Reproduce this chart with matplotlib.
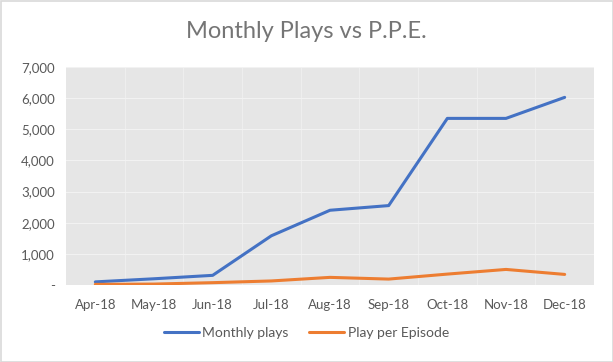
import matplotlib
matplotlib.use("Agg")
import matplotlib.pyplot as plt
from matplotlib.patches import Rectangle
from matplotlib.ticker import FuncFormatter, MultipleLocator

months = ["Apr-18", "May-18", "Jun-18", "Jul-18", "Aug-18", "Sep-18", "Oct-18", "Nov-18", "Dec-18"]
monthly_plays = [100, 200, 310, 1580, 2400, 2550, 5350, 5350, 6025]
play_per_episode = [20, 30, 75, 130, 245, 190, 350, 500, 340]

plt.rcParams['font.family'] = ['Lato', 'DejaVu Sans']
text_col = '#595959'

fig = plt.figure(figsize=(6.13, 3.62), dpi=100)
ax = fig.add_axes([66/613, 1-285/362, (594-66)/613, (285-67)/362])
ax.set_facecolor('#E6E6E6')

x = list(range(len(months)))
ax.plot(x, monthly_plays, color='#4472C4', lw=2.2, label='Monthly plays', solid_capstyle='round')
ax.plot(x, play_per_episode, color='#ED7D31', lw=2.2, label='Play per Episode', solid_capstyle='round')

ax.set_xlim(-0.5, len(months) - 0.5)
ax.set_ylim(0, 7000)
ax.set_xticks(x)
ax.set_xticklabels(months)
ax.yaxis.set_major_locator(MultipleLocator(1000))
ax.yaxis.set_major_formatter(FuncFormatter(lambda v, p: '-' if v == 0 else f'{int(v):,}'))
ax.set_xticks([i + 0.5 for i in range(len(months) - 1)], minor=True)
ax.grid(True, which='major', axis='y', color='#F2F2F2', lw=0.8)
ax.grid(True, which='minor', axis='x', color='#EEEEEE', lw=0.8)
ax.set_axisbelow(True)
for s in ax.spines.values():
    s.set_visible(False)
ax.tick_params(which='both', length=0, colors=text_col, labelsize=9.5)
ax.tick_params(axis='x', pad=10)
ax.tick_params(axis='y', pad=8)

fig.text(0.5, 1 - 31/362, 'Monthly Plays vs P.P.E.', ha='center', va='center',
         fontsize=17, color='#757575', fontweight='normal')

leg = fig.legend(loc='center', bbox_to_anchor=(0.5, 1 - 333/362), ncol=2, frameon=False,
                 fontsize=10, handlelength=2.5, columnspacing=1.5, handletextpad=0.25)
for t in leg.get_texts():
    t.set_color(text_col)

fig.patches.append(Rectangle((0.5/613, 0.5/362), 1 - 1/613, 1 - 1/362, transform=fig.transFigure,
                             fill=False, edgecolor='#D9D9D9', lw=1.2))

fig.savefig('out.png', dpi=100, facecolor='white')
